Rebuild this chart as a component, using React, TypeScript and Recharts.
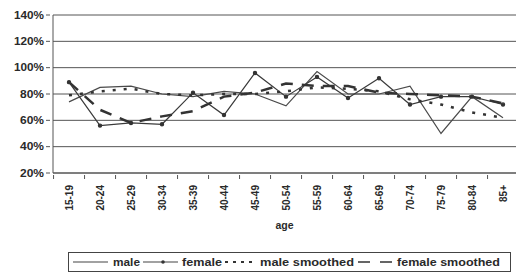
import React from 'react';
import { LineChart, Line, XAxis, YAxis, CartesianGrid, Legend } from 'recharts';

const ages = ['15-19','20-24','25-29','30-34','35-39','40-44','45-49','50-54','55-59','60-64','65-69','70-74','75-79','80-84','85+'];
const male = [74, 85, 86, 80, 78, 82, 80, 71, 97, 80, 80, 86, 50, 78, 62];
const female = [89, 56, 58, 57, 81, 64, 96, 78, 93, 77, 92, 72, 78, 78, 72];
const maleSmoothed = [79, 82, 84, 80, 79, 80, 80, 82, 85, 84, 82, 76, 72, 66, 62];
const femaleSmoothed = [89, 68, 58, 63, 67, 78, 81, 88, 86, 86, 81, 80, 79, 78, 73];
const yTicks = [20, 40, 60, 80, 100, 120, 140];

const data = ages.map((a, i) => ({
  age: a,
  male: male[i],
  female: female[i],
  maleSmoothed: maleSmoothed[i],
  femaleSmoothed: femaleSmoothed[i],
}));

const FONT = '"Liberation Sans", Arial, sans-serif';
const INK = '#2a2a2a';
const HALF_STEP = 15.45;

const YTick = (props: any) => {
  const { x, y, payload } = props;
  const label = `${payload.value}%`;
  return (
    <g>
      <line x1={x + 1} x2={x + 5} y1={y} y2={y} stroke="#555" />
      <text x={x - 1} y={y + 3.5} textAnchor="end" fontFamily={FONT} fontWeight="bold" fontSize={10} fill={INK}
        textLength={label.length === 4 ? 30 : 24} lengthAdjust="spacingAndGlyphs">{label}</text>
    </g>
  );
};

const XTick = (props: any) => {
  const { x, y, payload, index } = props;
  return (
    <g>
      <line x1={x - HALF_STEP} x2={x - HALF_STEP} y1={y - 6} y2={y - 2} stroke="#555" />
      {index === ages.length - 1 ? <line x1={x + HALF_STEP} x2={x + HALF_STEP} y1={y - 6} y2={y - 2} stroke="#555" /> : null}
      <text transform={`translate(${x + 3.5},${y + 4}) rotate(-90)`} textAnchor="end" fontFamily={FONT}
        fontWeight="bold" fontSize={10} fill={INK}>{payload.value}</text>
    </g>
  );
};

const renderLegend = () => (
  <svg width={516} height={22} style={{ display: 'block' }}>
    <rect x={68.5} y={0.5} width={442} height={19} fill="#fff" stroke="#444" />
    <g fontFamily={FONT} fontWeight="bold" fontSize={10} fill={INK}>
      <line x1={73} x2={108} y1={10} y2={10} stroke="#444" strokeWidth={1.2} />
      <text x={113} y={14} textLength={27} lengthAdjust="spacingAndGlyphs">male</text>
      <line x1={143} x2={178} y1={10} y2={10} stroke="#444" strokeWidth={1.2} />
      <circle cx={163} cy={10} r={1.8} fill="#333" />
      <text x={182} y={14} textLength={40} lengthAdjust="spacingAndGlyphs">female</text>
      <line x1={225} x2={257} y1={10} y2={10} stroke="#333" strokeWidth={2} strokeDasharray="3 5" />
      <text x={260} y={14} textLength={94} lengthAdjust="spacingAndGlyphs">male smoothed</text>
      <line x1={358} x2={393} y1={10} y2={10} stroke="#333" strokeWidth={1.5} strokeDasharray="12 10" />
      <text x={397} y={14} textLength={103} lengthAdjust="spacingAndGlyphs">female smoothed</text>
    </g>
  </svg>
);

export default function App() {
  return (
    <div style={{ position: 'absolute', left: 0, top: 0, background: '#fff' }}>
      <LineChart width={516} height={274} data={data} margin={{ top: 15, right: 0, left: 0, bottom: 0 }}>
        <CartesianGrid vertical={false} stroke="#555" strokeWidth={1} />
        <XAxis
          dataKey="age"
          height={79}
          padding={{ left: 16, right: 13 }}
          tick={<XTick />}
          tickLine={false}
          axisLine={{ stroke: '#555' }}
          interval={0}
          label={{ value: 'age', position: 'insideTop', offset: 49, fontFamily: FONT, fontWeight: 'bold', fontSize: 10.5, fill: INK }}
        />
        <YAxis
          width={53}
          domain={[20, 140]}
          ticks={yTicks}
          tick={<YTick />}
          tickLine={false}
          axisLine={{ stroke: '#555' }}
          interval={0}
        />
        <Legend verticalAlign="bottom" content={renderLegend} wrapperStyle={{ height: 22 }} />
        <Line dataKey="male" stroke="#4a4a4a" strokeWidth={1.2} dot={false} isAnimationActive={false} />
        <Line dataKey="female" stroke="#3a3a3a" strokeWidth={1.2} dot={{ r: 1.6, fill: '#333', stroke: '#333' }} isAnimationActive={false} />
        <Line dataKey="maleSmoothed" stroke="#333" strokeWidth={2.5} strokeDasharray="3 8" dot={false} isAnimationActive={false} />
        <Line dataKey="femaleSmoothed" stroke="#333" strokeWidth={2.5} strokeDasharray="12 9" dot={false} isAnimationActive={false} />
      </LineChart>
    </div>
  );
}
